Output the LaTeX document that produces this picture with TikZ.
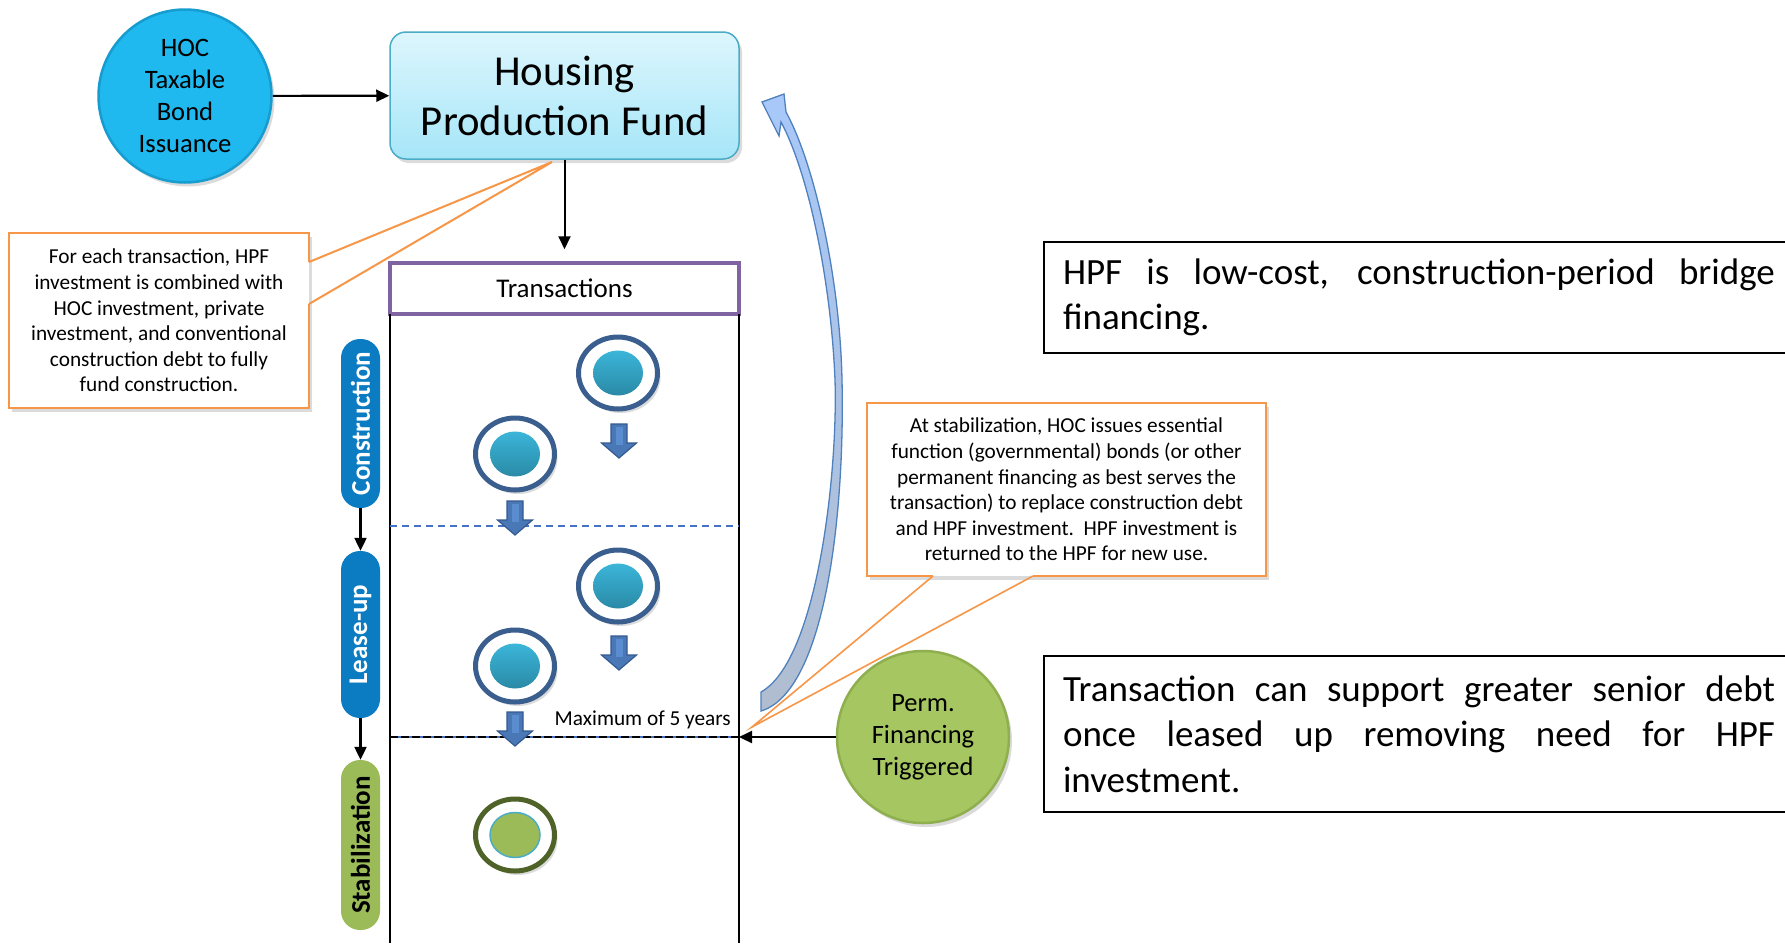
\documentclass[tikz,border=0pt]{standalone}
\usepackage{fontspec}
\setmainfont{Carlito}
\usetikzlibrary{shadows,arrows.meta,calc,shapes.geometric}
\hyphenpenalty=10000
\exhyphenpenalty=10000
\definecolor{hocblue}{HTML}{1FB8EF}
\definecolor{hocrim}{HTML}{169CCF}
\definecolor{hpftop}{HTML}{DDF6FD}
\definecolor{hpfbot}{HTML}{A6E6F8}
\definecolor{hpfdraw}{HTML}{4BACC6}
\definecolor{purp}{HTML}{8064A2}
\definecolor{pillblue}{HTML}{0B7BC2}
\definecolor{pillgreen}{HTML}{9BBB59}
\definecolor{ringblue}{HTML}{3A5E8E}
\definecolor{disktop}{HTML}{3BB5D9}
\definecolor{diskbot}{HTML}{2A8AA6}
\definecolor{ringgreen}{HTML}{4F6228}
\definecolor{arrfill}{HTML}{4A78B6}
\definecolor{arrdraw}{HTML}{335A90}
\definecolor{arrlight}{HTML}{5A8CD0}
\definecolor{dashblue}{HTML}{4472C4}
\definecolor{calor}{HTML}{F79646}
\definecolor{permfill}{HTML}{A6C662}
\definecolor{permrim}{HTML}{8FAF4E}
\definecolor{curvtop}{HTML}{A8C8FA}
\definecolor{curvbot}{HTML}{B0BDD0}
\definecolor{curvdraw}{HTML}{4F81BD}
\tikzset{
  conn/.style={-{Triangle[length=13pt,width=12pt]}, line width=2.2pt, black},
  shad/.style={drop shadow={opacity=0.28, shadow xshift=3pt, shadow yshift=-4pt}},
  ring/.style={ellipse, draw=ringblue, line width=5pt, fill=white, minimum width=79pt, minimum height=72pt, shad},
  disk/.style={ellipse, top color=disktop, bottom color=diskbot, draw=none, minimum width=50pt, minimum height=45pt, inner sep=0pt},
  pill/.style={rectangle, rounded corners=19pt, minimum height=39pt, inner sep=0pt, rotate=90, font=\fontsize{27}{30}\selectfont\bfseries},
  callbox/.style={fill=white, draw=none, shad},
  callline/.style={draw=calor, line width=2pt, line join=miter},
  calltext/.style={align=center, font=\fontsize{21.3}{25.6}\selectfont, inner sep=0pt},
  notebox/.style={draw=black, line width=2pt, anchor=north west, text width=712pt, inner xsep=19pt, align=justify, font=\fontsize{37}{45.5}\selectfont},
  downarr/.pic={
    \path[fill=arrfill, draw=arrdraw, line width=1.2pt] (-8,-17) -- (8,-17) -- (8,2) -- (17.5,2) -- (0,17) -- (-17.5,2) -- (-8,2) -- cycle;
    \path[fill=arrlight] (-3.5,-14) rectangle (3.5,4);
  }
}
\begin{document}
\begin{tikzpicture}[x=1pt,y=-1pt]
\useasboundingbox (0,0) rectangle (1785,943);
\clip (0,0) rectangle (1785,943);
\fill[white] (0,0) rectangle (1785,943);

% top nodes
\node[circle, minimum size=173pt, inner sep=0pt, fill=hocblue, draw=hocrim, line width=2.5pt, shad, align=center, font=\fontsize{26.6}{32}\selectfont] (hoc) at (185,96) {HOC\\Taxable\\Bond\\Issuance};
\node[rectangle, rounded corners=16pt, minimum width=349pt, minimum height=127pt, top color=hpftop, bottom color=hpfbot, draw=hpfdraw, line width=1.5pt, shad, align=center, font=\fontsize{42.7}{50}\selectfont] (hpf) at (564.5,95.5) {Housing\\Production Fund};
\draw[conn] (hoc) -- (hpf);

\node[rectangle, minimum width=349pt, minimum height=51pt, draw=purp, line width=3.5pt, fill=white, font=\fontsize{27}{30}\selectfont] (trans) at (564.5,288.5) {Transactions};
\draw[conn, line width=2pt, shorten >=12pt] (hpf.south) -- (trans.north);

% lanes
\coordinate (lbL) at (390,943);
\coordinate (lbR) at (739,943);
\coordinate (ltL) at (390,314);
\coordinate (ltR) at (739,314);
\draw[black, line width=1.5pt] (ltL) -- (lbL);
\draw[black, line width=1.5pt] (ltR) -- (lbR);
\coordinate (s1L) at (390,526);
\coordinate (s1R) at (739,526);
\draw[dashblue, line width=1.4pt, dash pattern=on 7pt off 5pt] (s1L) -- (s1R);
\coordinate (s2L) at (390,737);
\coordinate (s2R) at (739,737);
\draw[dashblue, line width=1.4pt] (s2L) -- (s2R);
\draw[black, line width=1.4pt, dash pattern=on 8pt off 3pt] (s2L) -- (s2R);

% phase pills
\node[pill, fill=pillblue, text=white, minimum width=169pt] (con) at (360.5,423.5) {Construction};
\node[pill, fill=pillblue, text=white, minimum width=167pt] (lease) at (360.5,634.5) {Lease-up};
\node[pill, fill=pillgreen, text=black, minimum width=170pt] (stab) at (360.5,845) {Stabilization};
\draw[conn] (con.west) -- (lease.east);
\draw[conn] (lease.west) -- (stab.east);

% transaction tokens
\node[ring] (r1) at (618,373) {};
\node[disk] (d1) at (r1) {};
\node[ring] (r2) at (515,454) {};
\node[disk] (d2) at (r2) {};
\node[ring] (r3) at (618,586) {};
\node[disk] (d3) at (r3) {};
\node[ring] (r4) at (515,666) {};
\node[disk] (d4) at (r4) {};
\node[ring, draw=ringgreen] (r5) at (515,835) {};
\node[ellipse, fill=pillgreen, draw=hpfdraw, line width=1.5pt, minimum width=50pt, minimum height=45pt, inner sep=0pt] (d5) at (r5) {};
\pic at (619,441) {downarr};
\pic at (515,518) {downarr};
\pic at (619,653) {downarr};
\pic at (515,729) {downarr};

\node[anchor=south east, inner sep=0pt, font=\fontsize{21.3}{25}\selectfont] (max) at (731,729) {Maximum of 5 years};

% perm circle
\node[circle, minimum size=172pt, inner sep=0pt, fill=permfill, draw=permrim, line width=2.5pt, shad, align=center, font=\fontsize{26.5}{32}\selectfont] (perm) at (923,737) {Perm.\\Financing\\Triggered};
\draw[conn] (perm.west) -- (s2R);

% curved block arrow (return to HPF)
\path[top color=curvtop, bottom color=curvbot, draw=curvdraw, line width=1.3pt]
  (761,692) .. controls (818,660) and (838,470) .. (835,380)
  .. controls (831,280) and (808,172) .. (781,122)
  -- (779,136) -- (762,102) -- (784,94) -- (786,112)
  .. controls (815,165) and (840,280) .. (842,380)
  .. controls (845,520) and (824,692) .. (761,711) -- cycle;

% callout 1
\path[callbox] (9,233) rectangle (309,408);
\draw[callline] (309,262) -- (309,233) -- (9,233) -- (9,408) -- (309,408) -- (309,304);
\draw[callline] (309,262) -- (552,162) -- (309,304);
\node[calltext] (c1) at (159,320.5) {For each transaction, HPF\\investment is combined with\\HOC investment, private\\investment, and conventional\\construction debt to fully\\fund construction.};

% callout 2
\path[callbox] (867,403) rectangle (1266,576);
\draw[callline] (933,576) -- (867,576) -- (867,403) -- (1266,403) -- (1266,576) -- (1033,576);
\draw[callline, line width=1.6pt] (933,576) -- (752,727) -- (1033,576);
\node[calltext] (c2) at (1066.5,489.5) {At stabilization, HOC issues essential\\function (governmental) bonds (or other\\permanent financing as best serves the\\transaction) to replace construction debt\\and HPF investment.\ \ HPF investment is\\returned to the HPF for new use.};

% right notes
\node[notebox, minimum height=111pt] (n1) at (1043,241) {HPF is low-cost, construction-period bridge financing.};
\node[notebox, minimum height=156pt] (n2) at (1043,655) {Transaction can support greater senior debt once leased up removing need for HPF investment.};
\end{tikzpicture}
\end{document}
